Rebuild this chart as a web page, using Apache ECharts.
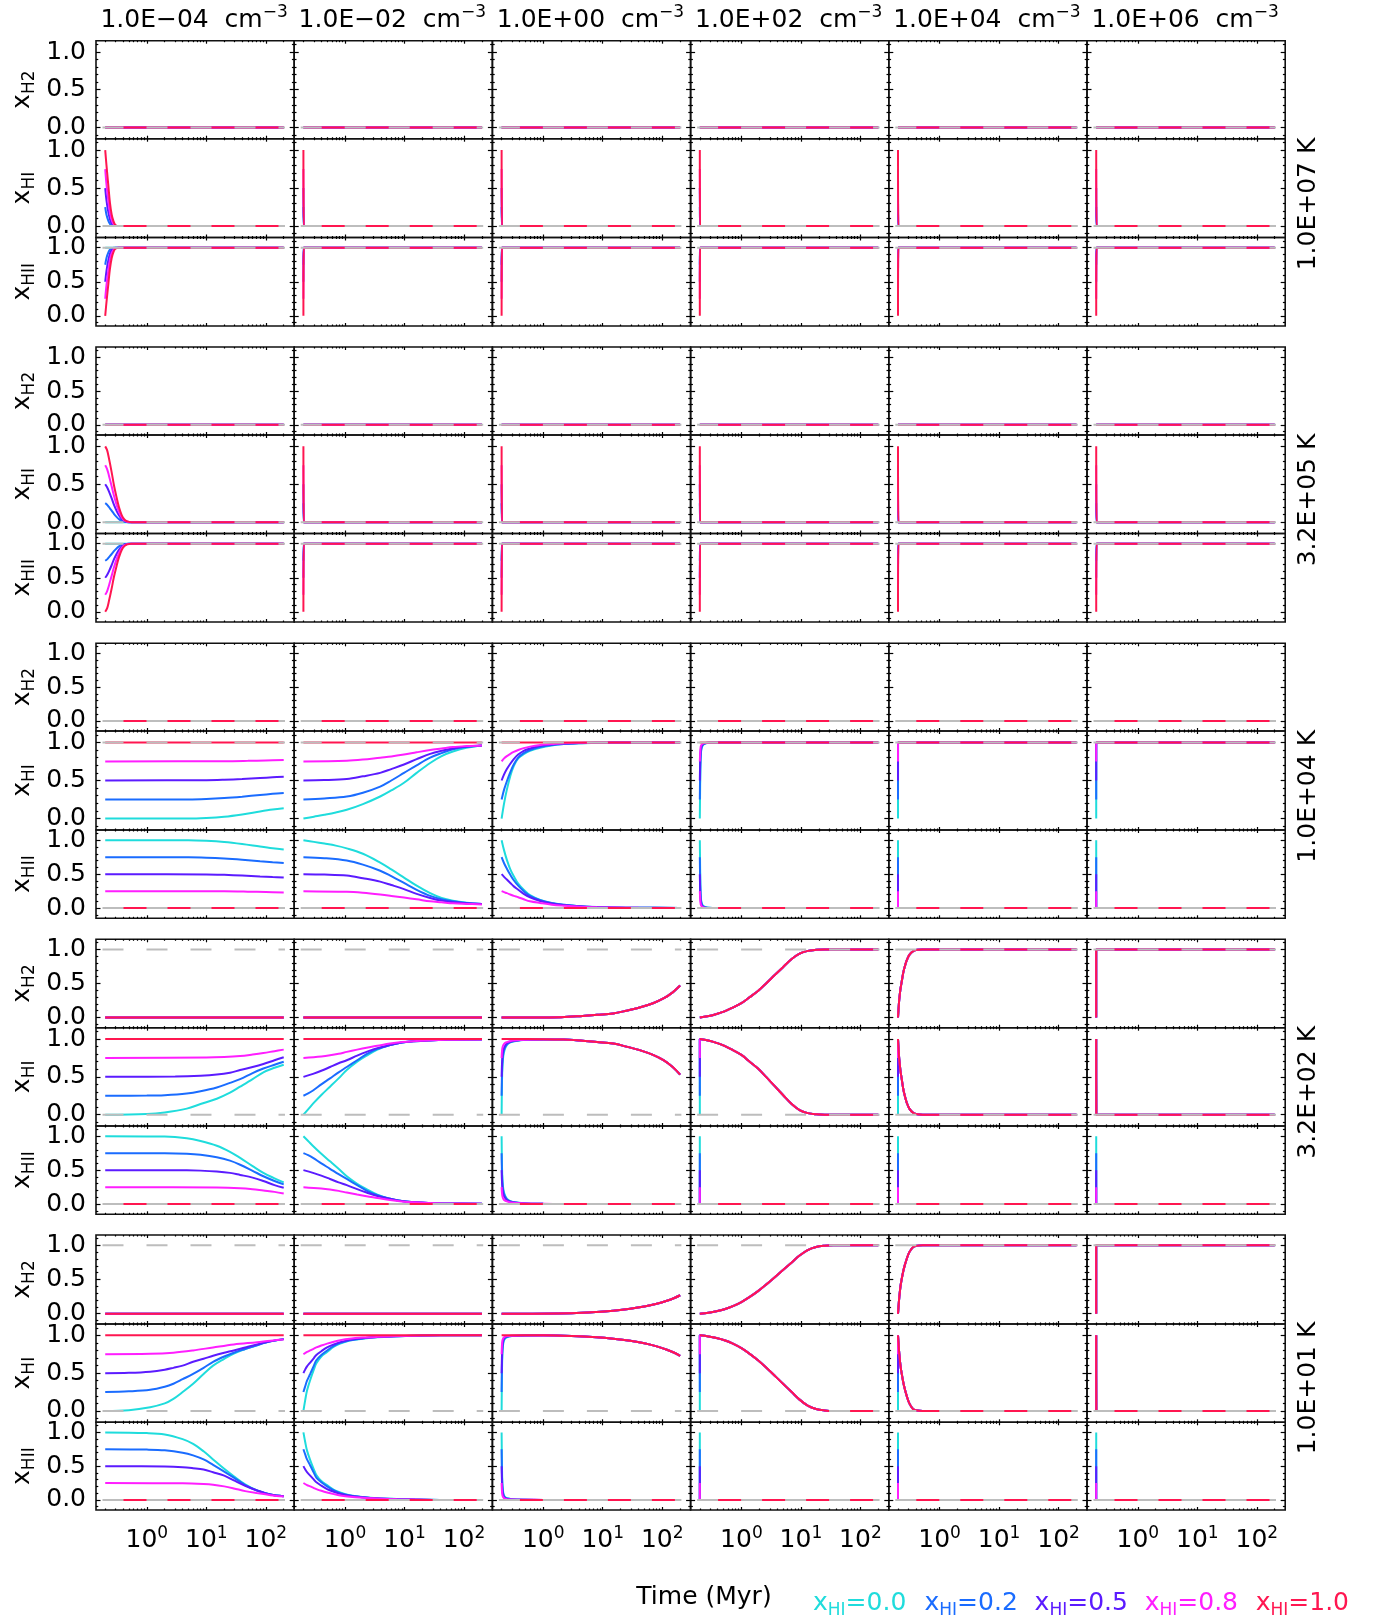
<!DOCTYPE html>
<html>
<head>
<meta charset="utf-8">
<title>Hydrogen chemistry grid</title>
<script src="https://cdn.jsdelivr.net/npm/echarts@6.0.0/dist/echarts.min.js"></script>
<style>
  html, body { margin: 0; padding: 0; background: #fff; }
  #main { width: 1377px; height: 1624px; }
</style>
</head>
<body>
<div id="main"></div>
<script>
var densityLabels = ['1.0E\u221204', '1.0E\u221202', '1.0E+00', '1.0E+02', '1.0E+04', '1.0E+06'];
var temperatureLabels = ['1.0E+07', '3.2E+05', '1.0E+04', '3.2E+02', '1.0E+01'];
var speciesNames = ['H2', 'HI', 'HII'];
var initialHILabels = ['0.0', '0.2', '0.5', '0.8', '1.0'];
var timeTicks = [1, 10, 100];
var timeMinorTicks = [0.2, 0.3, 0.4, 0.5, 0.6, 0.7, 0.8, 0.9, 2, 3, 4, 5, 6, 7, 8, 9, 20, 30, 40, 50, 60, 70, 80, 90, 200];
var fracTicks = [0, 0.5, 1];
var fracMinorTicks = [-0.1, 0.1, 0.2, 0.3, 0.4, 0.6, 0.7, 0.8, 0.9, 1.1];
// equilibrium [H2, HI, HII] for each temperature
var equilibrium = [[0, 0, 1], [0, 0, 1], [0, 1, 0], [1, 0, 0], [1, 0, 0]];
var eqTimes = [0.18, 210];

// curves: [column][initial xHI 0, .25, .5, .75, 1] -> [time Myr, fraction]
var Z = [[0.2, 0], [200, 0]];
var ONE = [[0.2, 1], [200, 1]];
var zeroCol = [Z, Z, Z, Z, Z];
var hiDrop = [Z, [[0.2, 0.25], [0.202, 0], [200, 0]], [[0.2, 0.5], [0.202, 0], [200, 0]], [[0.2, 0.75], [0.202, 0], [200, 0]], [[0.2, 1], [0.202, 0], [200, 0]]];
var hiiJump = [ONE, [[0.2, 0.75], [0.202, 1], [200, 1]], [[0.2, 0.5], [0.202, 1], [200, 1]], [[0.2, 0.25], [0.202, 1], [200, 1]], [[0.2, 0], [0.202, 1], [200, 1]]];
var hiUp = [[[0.2, 0], [0.2, 1], [200, 1]], [[0.2, 0.25], [0.2, 1], [200, 1]], [[0.2, 0.5], [0.2, 1], [200, 1]], [[0.2, 0.75], [0.2, 1], [200, 1]], ONE];
var hiiDown = [[[0.2, 1], [0.2, 0], [200, 0]], [[0.2, 0.75], [0.2, 0], [200, 0]], [[0.2, 0.5], [0.2, 0], [200, 0]], [[0.2, 0.25], [0.2, 0], [200, 0]], Z];
var h2Jump = [[0.2, 0], [0.2, 1], [200, 1]];
var hiSpike = [[[0.2, 0], [0.2, 1], [0.201, 0], [200, 0]], [[0.2, 0.25], [0.2, 1], [0.201, 0], [200, 0]], [[0.2, 0.5], [0.2, 1], [0.201, 0], [200, 0]], [[0.2, 0.75], [0.2, 1], [0.201, 0], [200, 0]], [[0.2, 1], [0.201, 0], [200, 0]]];

// ---- T = 1e7 K
var xH2_T1 = [zeroCol, zeroCol, zeroCol, zeroCol, zeroCol, zeroCol];
var xHI_T1 = [
  [Z,
   [[0.2, 0.25], [0.21, 0.15], [0.226, 0.07], [0.24, 0.03], [0.257, 0.01], [0.28, 0], [200, 0]],
   [[0.2, 0.5], [0.21, 0.34], [0.226, 0.18], [0.24, 0.09], [0.257, 0.035], [0.275, 0.012], [0.3, 0], [200, 0]],
   [[0.2, 0.75], [0.21, 0.55], [0.226, 0.33], [0.24, 0.18], [0.257, 0.08], [0.275, 0.03], [0.3, 0.005], [0.33, 0], [200, 0]],
   [[0.2, 1], [0.21, 0.8], [0.226, 0.53], [0.24, 0.31], [0.257, 0.15], [0.275, 0.066], [0.293, 0.02], [0.33, 0], [200, 0]]],
  hiDrop, hiDrop, hiDrop, hiDrop, hiDrop];
var xHII_T1 = [
  [ONE,
   [[0.2, 0.75], [0.21, 0.85], [0.226, 0.93], [0.24, 0.97], [0.257, 0.99], [0.28, 1], [200, 1]],
   [[0.2, 0.5], [0.21, 0.66], [0.226, 0.82], [0.24, 0.91], [0.257, 0.965], [0.275, 0.988], [0.3, 1], [200, 1]],
   [[0.2, 0.25], [0.21, 0.45], [0.226, 0.67], [0.24, 0.82], [0.257, 0.92], [0.275, 0.97], [0.3, 0.995], [0.33, 1], [200, 1]],
   [[0.2, 0], [0.21, 0.2], [0.226, 0.47], [0.24, 0.69], [0.257, 0.85], [0.275, 0.934], [0.293, 0.98], [0.33, 1], [200, 1]]],
  hiiJump, hiiJump, hiiJump, hiiJump, hiiJump];

// ---- T = 3.2e5 K
var xH2_T2 = [zeroCol, zeroCol, zeroCol, zeroCol, zeroCol, zeroCol];
var xHI_T2 = [
  [Z,
   [[0.2, 0.25], [0.215, 0.23], [0.23, 0.2], [0.255, 0.155], [0.28, 0.11], [0.31, 0.07], [0.34, 0.04], [0.38, 0.018], [0.42, 0.007], [0.5, 0], [200, 0]],
   [[0.2, 0.5], [0.215, 0.46], [0.23, 0.41], [0.255, 0.32], [0.28, 0.23], [0.31, 0.15], [0.34, 0.09], [0.38, 0.04], [0.42, 0.015], [0.5, 0], [200, 0]],
   [[0.2, 0.75], [0.215, 0.7], [0.23, 0.62], [0.255, 0.48], [0.28, 0.35], [0.31, 0.23], [0.34, 0.14], [0.38, 0.06], [0.42, 0.022], [0.47, 0.006], [0.55, 0], [200, 0]],
   [[0.2, 1], [0.215, 0.95], [0.23, 0.85], [0.255, 0.67], [0.28, 0.49], [0.31, 0.33], [0.34, 0.2], [0.38, 0.09], [0.42, 0.035], [0.47, 0.01], [0.55, 0], [200, 0]]],
  hiDrop, hiDrop, hiDrop, hiDrop, hiDrop];
var xHII_T2 = [
  [ONE,
   [[0.2, 0.75], [0.215, 0.77], [0.23, 0.8], [0.255, 0.845], [0.28, 0.89], [0.31, 0.93], [0.34, 0.96], [0.38, 0.982], [0.42, 0.993], [0.5, 1], [200, 1]],
   [[0.2, 0.5], [0.215, 0.54], [0.23, 0.59], [0.255, 0.68], [0.28, 0.77], [0.31, 0.85], [0.34, 0.91], [0.38, 0.96], [0.42, 0.985], [0.5, 1], [200, 1]],
   [[0.2, 0.25], [0.215, 0.3], [0.23, 0.38], [0.255, 0.52], [0.28, 0.65], [0.31, 0.77], [0.34, 0.86], [0.38, 0.94], [0.42, 0.978], [0.47, 0.994], [0.55, 1], [200, 1]],
   [[0.2, 0], [0.215, 0.05], [0.23, 0.15], [0.255, 0.33], [0.28, 0.51], [0.31, 0.67], [0.34, 0.8], [0.38, 0.91], [0.42, 0.965], [0.47, 0.99], [0.55, 1], [200, 1]]],
  hiiJump, hiiJump, hiiJump, hiiJump, hiiJump];

// ---- T = 1e4 K
var xH2_T3 = [zeroCol, zeroCol, zeroCol, zeroCol, zeroCol, zeroCol];
var xHI_T3 = [
  [[[0.2, 0], [5, 0], [10, 0.008], [20, 0.025], [40, 0.055], [80, 0.093], [130, 0.118], [200, 0.137]],
   [[0.2, 0.25], [5, 0.252], [10, 0.258], [20, 0.27], [40, 0.288], [80, 0.31], [130, 0.325], [200, 0.336]],
   [[0.2, 0.5], [10, 0.504], [20, 0.51], [40, 0.52], [80, 0.533], [130, 0.542], [200, 0.549]],
   [[0.2, 0.75], [20, 0.753], [50, 0.758], [100, 0.764], [200, 0.77]],
   ONE],
  [[[0.2, 0], [0.3, 0.025], [0.45, 0.05], [0.7, 0.08], [1.07, 0.115], [2, 0.19], [3.9, 0.29], [6, 0.37], [9.8, 0.47], [16, 0.6], [27, 0.73], [42, 0.82], [65, 0.88], [110, 0.93], [200, 0.96]],
   [[0.2, 0.25], [0.45, 0.265], [1.07, 0.29], [2, 0.34], [3.9, 0.42], [6, 0.5], [9.8, 0.6], [16, 0.7], [27, 0.8], [42, 0.86], [65, 0.91], [110, 0.94], [200, 0.96]],
   [[0.2, 0.5], [0.45, 0.505], [1.07, 0.52], [2, 0.555], [3.9, 0.6], [6, 0.65], [9.8, 0.71], [16, 0.78], [27, 0.85], [42, 0.89], [65, 0.92], [110, 0.945], [200, 0.96]],
   [[0.2, 0.75], [1.07, 0.76], [2, 0.775], [3.9, 0.8], [6, 0.815], [9.8, 0.84], [16, 0.87], [27, 0.9], [42, 0.92], [65, 0.94], [110, 0.952], [200, 0.96]],
   ONE],
  [[[0.2, 0], [0.22, 0.2], [0.245, 0.38], [0.28, 0.56], [0.32, 0.69], [0.38, 0.79], [0.47, 0.845], [0.6, 0.89], [0.89, 0.93], [1.4, 0.96], [2.2, 0.978], [4, 0.99], [8, 0.997], [15, 1], [200, 1]],
   [[0.2, 0.25], [0.22, 0.38], [0.245, 0.49], [0.28, 0.61], [0.32, 0.71], [0.38, 0.8], [0.47, 0.86], [0.6, 0.9], [0.89, 0.94], [1.4, 0.965], [2.2, 0.98], [4, 0.99], [8, 0.997], [15, 1], [200, 1]],
   [[0.2, 0.5], [0.22, 0.58], [0.245, 0.65], [0.28, 0.72], [0.32, 0.78], [0.38, 0.84], [0.47, 0.89], [0.6, 0.92], [0.89, 0.955], [1.4, 0.972], [2.2, 0.985], [4, 0.993], [8, 0.998], [15, 1], [200, 1]],
   [[0.2, 0.75], [0.22, 0.79], [0.245, 0.82], [0.28, 0.85], [0.32, 0.875], [0.38, 0.9], [0.47, 0.925], [0.6, 0.945], [0.89, 0.965], [1.4, 0.978], [2.2, 0.99], [4, 0.995], [8, 0.998], [15, 1], [200, 1]],
   ONE],
  [[[0.2, 0], [0.205, 0.7], [0.21, 0.88], [0.22, 0.95], [0.24, 0.98], [0.28, 0.995], [0.4, 1], [200, 1]],
   [[0.2, 0.25], [0.205, 0.78], [0.21, 0.9], [0.22, 0.96], [0.24, 0.985], [0.28, 0.996], [0.4, 1], [200, 1]],
   [[0.2, 0.5], [0.205, 0.85], [0.21, 0.93], [0.22, 0.97], [0.24, 0.99], [0.3, 1], [200, 1]],
   [[0.2, 0.75], [0.205, 0.92], [0.21, 0.96], [0.22, 0.98], [0.24, 0.993], [0.3, 1], [200, 1]],
   ONE],
  hiUp, hiUp];
var xHII_T3 = [
  [[[0.2, 1], [5, 1], [10, 0.992], [20, 0.975], [40, 0.945], [80, 0.907], [130, 0.882], [200, 0.863]],
   [[0.2, 0.75], [5, 0.748], [10, 0.742], [20, 0.73], [40, 0.712], [80, 0.69], [130, 0.675], [200, 0.664]],
   [[0.2, 0.5], [10, 0.496], [20, 0.49], [40, 0.48], [80, 0.467], [130, 0.458], [200, 0.451]],
   [[0.2, 0.25], [20, 0.247], [50, 0.242], [100, 0.236], [200, 0.23]],
   Z],
  [[[0.2, 1], [0.3, 0.975], [0.45, 0.95], [0.7, 0.92], [1.07, 0.88], [2, 0.8], [3.9, 0.67], [6, 0.57], [9.8, 0.45], [16, 0.33], [27, 0.22], [42, 0.15], [65, 0.11], [110, 0.08], [200, 0.06]],
   [[0.2, 0.75], [0.45, 0.735], [1.07, 0.7], [2, 0.64], [3.9, 0.55], [6, 0.47], [9.8, 0.37], [16, 0.27], [27, 0.18], [42, 0.13], [65, 0.1], [110, 0.075], [200, 0.06]],
   [[0.2, 0.5], [0.45, 0.495], [1.07, 0.48], [2, 0.44], [3.9, 0.39], [6, 0.34], [9.8, 0.28], [16, 0.21], [27, 0.15], [42, 0.11], [65, 0.09], [110, 0.07], [200, 0.06]],
   [[0.2, 0.25], [1.07, 0.24], [2, 0.225], [3.9, 0.2], [6, 0.18], [9.8, 0.155], [16, 0.13], [27, 0.1], [42, 0.085], [65, 0.07], [110, 0.062], [200, 0.055]],
   Z],
  [[[0.2, 1], [0.22, 0.85], [0.245, 0.71], [0.28, 0.57], [0.32, 0.47], [0.38, 0.36], [0.47, 0.27], [0.6, 0.19], [0.89, 0.12], [1.4, 0.075], [2.2, 0.05], [4, 0.028], [8, 0.015], [15, 0.01], [40, 0.005], [200, 0.003]],
   [[0.2, 0.75], [0.22, 0.66], [0.245, 0.58], [0.28, 0.49], [0.32, 0.41], [0.38, 0.33], [0.47, 0.25], [0.6, 0.18], [0.89, 0.115], [1.4, 0.072], [2.2, 0.048], [4, 0.027], [8, 0.015], [15, 0.01], [40, 0.005], [200, 0.003]],
   [[0.2, 0.5], [0.22, 0.46], [0.245, 0.42], [0.28, 0.37], [0.32, 0.32], [0.38, 0.27], [0.47, 0.21], [0.6, 0.16], [0.89, 0.105], [1.4, 0.068], [2.2, 0.045], [4, 0.026], [8, 0.014], [15, 0.01], [40, 0.005], [200, 0.003]],
   [[0.2, 0.25], [0.22, 0.235], [0.245, 0.22], [0.28, 0.2], [0.32, 0.18], [0.38, 0.16], [0.47, 0.13], [0.6, 0.1], [0.89, 0.075], [1.4, 0.05], [2.2, 0.035], [4, 0.02], [8, 0.012], [15, 0.008], [40, 0.004], [200, 0.003]],
   Z],
  [[[0.2, 1], [0.205, 0.3], [0.21, 0.12], [0.22, 0.05], [0.24, 0.02], [0.28, 0.005], [0.4, 0], [200, 0]],
   [[0.2, 0.75], [0.205, 0.22], [0.21, 0.1], [0.22, 0.04], [0.24, 0.015], [0.28, 0.004], [0.4, 0], [200, 0]],
   [[0.2, 0.5], [0.205, 0.15], [0.21, 0.07], [0.22, 0.03], [0.24, 0.01], [0.3, 0], [200, 0]],
   [[0.2, 0.25], [0.205, 0.08], [0.21, 0.04], [0.22, 0.02], [0.24, 0.007], [0.3, 0], [200, 0]],
   Z],
  hiiDown, hiiDown];

// ---- T = 320 K
var h2_320_n1 = [[0.2, 0], [2, 0.005], [4.2, 0.02], [8, 0.04], [15, 0.06], [25, 0.1], [43, 0.15], [70, 0.21], [105, 0.28], [150, 0.37], [200, 0.47]];
var h2_320_n2 = [[0.2, 0], [0.3, 0.025], [0.38, 0.05], [0.52, 0.09], [0.72, 0.146], [1, 0.21], [1.38, 0.3], [1.9, 0.39], [2.6, 0.5], [3.6, 0.62], [5, 0.74], [7, 0.86], [9.5, 0.94], [13, 0.98], [18, 0.995], [25, 1], [200, 1]];
var h2_320_n4 = [[0.2, 0], [0.205, 0.15], [0.21, 0.27], [0.22, 0.42], [0.23, 0.52], [0.245, 0.66], [0.26, 0.75], [0.28, 0.84], [0.31, 0.92], [0.36, 0.976], [0.42, 0.995], [0.52, 1], [200, 1]];
var xH2_T4 = [zeroCol, zeroCol,
  [h2_320_n1, h2_320_n1, h2_320_n1, h2_320_n1, h2_320_n1],
  [h2_320_n2, h2_320_n2, h2_320_n2, h2_320_n2, h2_320_n2],
  [h2_320_n4, h2_320_n4, h2_320_n4, h2_320_n4, h2_320_n4],
  [h2Jump, h2Jump, h2Jump, h2Jump, h2Jump]];
var xHI_T4 = [
  [[[0.2, 0], [1, 0.01], [2, 0.03], [4.7, 0.08], [8, 0.14], [15, 0.21], [25, 0.29], [37, 0.37], [60, 0.47], [91, 0.56], [140, 0.62], [200, 0.66]],
   [[0.2, 0.25], [1, 0.252], [2, 0.258], [4.7, 0.28], [8, 0.31], [15, 0.36], [25, 0.42], [37, 0.47], [60, 0.55], [91, 0.61], [140, 0.66], [200, 0.7]],
   [[0.2, 0.5], [3, 0.505], [8, 0.515], [15, 0.53], [25, 0.555], [37, 0.59], [60, 0.63], [91, 0.67], [140, 0.72], [200, 0.76]],
   [[0.2, 0.75], [10, 0.755], [20, 0.762], [37, 0.775], [60, 0.795], [91, 0.815], [140, 0.84], [200, 0.86]],
   ONE],
  [[[0.2, 0], [0.24, 0.07], [0.29, 0.145], [0.4, 0.26], [0.56, 0.37], [0.78, 0.48], [1.07, 0.59], [1.6, 0.7], [2.3, 0.78], [3.5, 0.86], [5.7, 0.92], [9, 0.955], [14, 0.97], [25, 0.982], [50, 0.99], [200, 0.993]],
   [[0.2, 0.25], [0.24, 0.28], [0.29, 0.32], [0.4, 0.4], [0.56, 0.48], [0.78, 0.56], [1.07, 0.63], [1.6, 0.72], [2.3, 0.8], [3.5, 0.87], [5.7, 0.92], [9, 0.955], [14, 0.97], [25, 0.982], [50, 0.99], [200, 0.993]],
   [[0.2, 0.5], [0.29, 0.54], [0.4, 0.58], [0.56, 0.63], [0.78, 0.68], [1.07, 0.72], [1.6, 0.78], [2.3, 0.83], [3.5, 0.88], [5.7, 0.92], [9, 0.955], [14, 0.97], [25, 0.982], [50, 0.99], [200, 0.993]],
   [[0.2, 0.75], [0.4, 0.77], [0.56, 0.785], [0.78, 0.805], [1.07, 0.83], [1.6, 0.86], [2.3, 0.885], [3.5, 0.91], [5.7, 0.94], [9, 0.96], [14, 0.972], [25, 0.982], [50, 0.99], [200, 0.993]],
   ONE],
  [[[0.2, 0], [0.203, 0.45], [0.207, 0.65], [0.213, 0.77], [0.225, 0.86], [0.245, 0.92], [0.28, 0.955], [0.35, 0.975], [0.5, 0.99], [1, 0.995], [2.2, 0.993], [4.2, 0.98], [8, 0.96], [15, 0.94], [25, 0.9], [43, 0.85], [70, 0.79], [105, 0.72], [150, 0.63], [200, 0.53]],
   [[0.2, 0.25], [0.203, 0.55], [0.207, 0.71], [0.213, 0.81], [0.225, 0.88], [0.245, 0.93], [0.28, 0.96], [0.35, 0.977], [0.5, 0.99], [1, 0.995], [2.2, 0.993], [4.2, 0.98], [8, 0.96], [15, 0.94], [25, 0.9], [43, 0.85], [70, 0.79], [105, 0.72], [150, 0.63], [200, 0.53]],
   [[0.2, 0.5], [0.203, 0.67], [0.207, 0.78], [0.213, 0.85], [0.225, 0.9], [0.245, 0.94], [0.28, 0.965], [0.35, 0.98], [0.5, 0.99], [1, 0.995], [2.2, 0.993], [4.2, 0.98], [8, 0.96], [15, 0.94], [25, 0.9], [43, 0.85], [70, 0.79], [105, 0.72], [150, 0.63], [200, 0.53]],
   [[0.2, 0.75], [0.203, 0.84], [0.207, 0.89], [0.213, 0.92], [0.225, 0.945], [0.245, 0.96], [0.28, 0.975], [0.35, 0.985], [0.5, 0.992], [1, 0.995], [2.2, 0.993], [4.2, 0.98], [8, 0.96], [15, 0.94], [25, 0.9], [43, 0.85], [70, 0.79], [105, 0.72], [150, 0.63], [200, 0.53]],
   [[0.2, 1], [1, 0.998], [2.2, 0.993], [4.2, 0.98], [8, 0.96], [15, 0.94], [25, 0.9], [43, 0.85], [70, 0.79], [105, 0.72], [150, 0.63], [200, 0.53]]],
  [[[0.2, 0], [0.2, 1], [0.3, 0.975], [0.38, 0.95], [0.52, 0.91], [0.72, 0.854], [1, 0.79], [1.38, 0.7], [1.9, 0.61], [2.6, 0.5], [3.6, 0.38], [5, 0.26], [7, 0.14], [9.5, 0.06], [13, 0.02], [18, 0.005], [25, 0], [200, 0]],
   [[0.2, 0.25], [0.2, 1], [0.3, 0.975], [0.38, 0.95], [0.52, 0.91], [0.72, 0.854], [1, 0.79], [1.38, 0.7], [1.9, 0.61], [2.6, 0.5], [3.6, 0.38], [5, 0.26], [7, 0.14], [9.5, 0.06], [13, 0.02], [18, 0.005], [25, 0], [200, 0]],
   [[0.2, 0.5], [0.2, 1], [0.3, 0.975], [0.38, 0.95], [0.52, 0.91], [0.72, 0.854], [1, 0.79], [1.38, 0.7], [1.9, 0.61], [2.6, 0.5], [3.6, 0.38], [5, 0.26], [7, 0.14], [9.5, 0.06], [13, 0.02], [18, 0.005], [25, 0], [200, 0]],
   [[0.2, 0.75], [0.2, 1], [0.3, 0.975], [0.38, 0.95], [0.52, 0.91], [0.72, 0.854], [1, 0.79], [1.38, 0.7], [1.9, 0.61], [2.6, 0.5], [3.6, 0.38], [5, 0.26], [7, 0.14], [9.5, 0.06], [13, 0.02], [18, 0.005], [25, 0], [200, 0]],
   [[0.2, 1], [0.3, 0.975], [0.38, 0.95], [0.52, 0.91], [0.72, 0.854], [1, 0.79], [1.38, 0.7], [1.9, 0.61], [2.6, 0.5], [3.6, 0.38], [5, 0.26], [7, 0.14], [9.5, 0.06], [13, 0.02], [18, 0.005], [25, 0], [200, 0]]],
  [[[0.2, 0], [0.2, 1], [0.205, 0.85], [0.21, 0.73], [0.22, 0.58], [0.23, 0.48], [0.245, 0.34], [0.26, 0.25], [0.28, 0.16], [0.31, 0.08], [0.36, 0.024], [0.42, 0.005], [0.52, 0], [200, 0]],
   [[0.2, 0.25], [0.2, 1], [0.205, 0.85], [0.21, 0.73], [0.22, 0.58], [0.23, 0.48], [0.245, 0.34], [0.26, 0.25], [0.28, 0.16], [0.31, 0.08], [0.36, 0.024], [0.42, 0.005], [0.52, 0], [200, 0]],
   [[0.2, 0.5], [0.2, 1], [0.205, 0.85], [0.21, 0.73], [0.22, 0.58], [0.23, 0.48], [0.245, 0.34], [0.26, 0.25], [0.28, 0.16], [0.31, 0.08], [0.36, 0.024], [0.42, 0.005], [0.52, 0], [200, 0]],
   [[0.2, 0.75], [0.2, 1], [0.205, 0.85], [0.21, 0.73], [0.22, 0.58], [0.23, 0.48], [0.245, 0.34], [0.26, 0.25], [0.28, 0.16], [0.31, 0.08], [0.36, 0.024], [0.42, 0.005], [0.52, 0], [200, 0]],
   [[0.2, 1], [0.205, 0.85], [0.21, 0.73], [0.22, 0.58], [0.23, 0.48], [0.245, 0.34], [0.26, 0.25], [0.28, 0.16], [0.31, 0.08], [0.36, 0.024], [0.42, 0.005], [0.52, 0], [200, 0]]],
  hiSpike];
var xHII_T4 = [
  [[[0.2, 1], [2, 0.995], [4.7, 0.97], [8, 0.93], [15, 0.86], [25, 0.77], [37, 0.68], [60, 0.56], [91, 0.46], [140, 0.38], [200, 0.32]],
   [[0.2, 0.75], [2, 0.748], [4.7, 0.74], [8, 0.725], [15, 0.69], [25, 0.64], [37, 0.58], [60, 0.49], [91, 0.41], [140, 0.34], [200, 0.29]],
   [[0.2, 0.5], [4.7, 0.497], [8, 0.493], [15, 0.48], [25, 0.46], [37, 0.43], [60, 0.39], [91, 0.34], [140, 0.28], [200, 0.24]],
   [[0.2, 0.25], [15, 0.245], [37, 0.235], [60, 0.22], [91, 0.2], [140, 0.18], [200, 0.155]],
   Z],
  [[[0.2, 1], [0.24, 0.93], [0.29, 0.855], [0.4, 0.74], [0.56, 0.63], [0.78, 0.52], [1.07, 0.41], [1.6, 0.3], [2.3, 0.22], [3.5, 0.14], [5.7, 0.08], [9, 0.045], [14, 0.03], [25, 0.018], [50, 0.01], [200, 0.007]],
   [[0.2, 0.75], [0.24, 0.72], [0.29, 0.68], [0.4, 0.6], [0.56, 0.52], [0.78, 0.44], [1.07, 0.37], [1.6, 0.28], [2.3, 0.2], [3.5, 0.13], [5.7, 0.08], [9, 0.045], [14, 0.03], [25, 0.018], [50, 0.01], [200, 0.007]],
   [[0.2, 0.5], [0.29, 0.46], [0.4, 0.42], [0.56, 0.37], [0.78, 0.32], [1.07, 0.28], [1.6, 0.22], [2.3, 0.17], [3.5, 0.12], [5.7, 0.08], [9, 0.045], [14, 0.03], [25, 0.018], [50, 0.01], [200, 0.007]],
   [[0.2, 0.25], [0.4, 0.23], [0.56, 0.215], [0.78, 0.195], [1.07, 0.17], [1.6, 0.14], [2.3, 0.115], [3.5, 0.09], [5.7, 0.06], [9, 0.04], [14, 0.028], [25, 0.018], [50, 0.01], [200, 0.007]],
   Z],
  [[[0.2, 1], [0.203, 0.55], [0.207, 0.35], [0.213, 0.23], [0.225, 0.14], [0.245, 0.08], [0.28, 0.045], [0.35, 0.025], [0.5, 0.01], [1, 0.005], [2.2, 0.002], [5, 0], [200, 0]],
   [[0.2, 0.75], [0.203, 0.45], [0.207, 0.29], [0.213, 0.19], [0.225, 0.12], [0.245, 0.07], [0.28, 0.04], [0.35, 0.023], [0.5, 0.01], [1, 0.005], [2.2, 0.002], [5, 0], [200, 0]],
   [[0.2, 0.5], [0.203, 0.33], [0.207, 0.22], [0.213, 0.15], [0.225, 0.1], [0.245, 0.06], [0.28, 0.035], [0.35, 0.02], [0.5, 0.01], [1, 0.005], [2.2, 0.002], [5, 0], [200, 0]],
   [[0.2, 0.25], [0.203, 0.16], [0.207, 0.11], [0.213, 0.08], [0.225, 0.055], [0.245, 0.04], [0.28, 0.025], [0.35, 0.015], [0.5, 0.008], [1, 0.005], [2.2, 0.002], [5, 0], [200, 0]],
   Z],
  hiiDown, hiiDown, hiiDown];

// ---- T = 10 K
var h2_10_n1 = [[0.2, 0], [3, 0.008], [7.9, 0.025], [15, 0.045], [29, 0.073], [50, 0.105], [81, 0.146], [120, 0.19], [160, 0.23], [200, 0.27]];
var h2_10_n2 = [[0.2, 0], [0.28, 0.015], [0.38, 0.035], [0.52, 0.065], [0.72, 0.11], [1, 0.17], [1.38, 0.245], [1.9, 0.33], [2.6, 0.425], [3.6, 0.53], [5, 0.64], [7, 0.75], [9.5, 0.85], [13, 0.93], [18, 0.975], [25, 0.993], [35, 1], [200, 1]];
var h2_10_n4 = [[0.2, 0], [0.205, 0.13], [0.21, 0.24], [0.22, 0.4], [0.23, 0.5], [0.245, 0.62], [0.26, 0.71], [0.28, 0.8], [0.31, 0.9], [0.36, 0.976], [0.42, 0.995], [0.52, 1], [200, 1]];
var xH2_T5 = [zeroCol, zeroCol,
  [h2_10_n1, h2_10_n1, h2_10_n1, h2_10_n1, h2_10_n1],
  [h2_10_n2, h2_10_n2, h2_10_n2, h2_10_n2, h2_10_n2],
  [h2_10_n4, h2_10_n4, h2_10_n4, h2_10_n4, h2_10_n4],
  [h2Jump, h2Jump, h2Jump, h2Jump, h2Jump]];
var hi_10_n2_tail = [[0.28, 0.985], [0.38, 0.965], [0.52, 0.935], [0.72, 0.89], [1, 0.83], [1.38, 0.755], [1.9, 0.67], [2.6, 0.575], [3.6, 0.47], [5, 0.36], [7, 0.25], [9.5, 0.15], [13, 0.07], [18, 0.025], [25, 0.007], [35, 0], [200, 0]];
var xHI_T5 = [
  [[[0.2, 0], [0.5, 0.01], [1.14, 0.05], [2, 0.1], [2.8, 0.16], [4, 0.25], [6, 0.36], [9, 0.49], [13, 0.6], [20, 0.69], [29, 0.76], [45, 0.82], [71, 0.87], [120, 0.92], [200, 0.95]],
   [[0.2, 0.25], [0.5, 0.26], [1.14, 0.28], [2, 0.32], [2.8, 0.36], [4, 0.42], [6, 0.49], [9, 0.57], [13, 0.65], [20, 0.72], [29, 0.77], [45, 0.82], [71, 0.87], [120, 0.92], [200, 0.95]],
   [[0.2, 0.5], [0.5, 0.505], [1.14, 0.52], [2, 0.545], [2.8, 0.57], [4, 0.6], [6, 0.65], [9, 0.69], [13, 0.73], [20, 0.77], [29, 0.8], [45, 0.84], [71, 0.88], [120, 0.92], [200, 0.95]],
   [[0.2, 0.75], [1.14, 0.755], [2.8, 0.77], [6, 0.8], [13, 0.84], [29, 0.88], [71, 0.91], [120, 0.93], [200, 0.945]],
   ONE],
  [[[0.2, 0], [0.215, 0.15], [0.23, 0.27], [0.26, 0.41], [0.3, 0.55], [0.33, 0.63], [0.4, 0.72], [0.5, 0.78], [0.65, 0.85], [0.83, 0.89], [1.2, 0.93], [2, 0.956], [3.5, 0.975], [7.4, 0.987], [15, 0.995], [40, 1], [200, 1]],
   [[0.2, 0.25], [0.215, 0.33], [0.23, 0.4], [0.26, 0.49], [0.3, 0.6], [0.33, 0.67], [0.4, 0.74], [0.5, 0.8], [0.65, 0.86], [0.83, 0.9], [1.2, 0.935], [2, 0.96], [3.5, 0.977], [7.4, 0.988], [15, 0.995], [40, 1], [200, 1]],
   [[0.2, 0.5], [0.215, 0.55], [0.23, 0.59], [0.26, 0.64], [0.3, 0.7], [0.33, 0.74], [0.4, 0.79], [0.5, 0.84], [0.65, 0.88], [0.83, 0.91], [1.2, 0.94], [2, 0.962], [3.5, 0.978], [7.4, 0.989], [15, 0.995], [40, 1], [200, 1]],
   [[0.2, 0.75], [0.23, 0.78], [0.26, 0.8], [0.3, 0.825], [0.33, 0.84], [0.4, 0.865], [0.5, 0.89], [0.65, 0.915], [0.83, 0.935], [1.2, 0.955], [2, 0.97], [3.5, 0.98], [7.4, 0.99], [15, 0.995], [40, 1], [200, 1]],
   ONE],
  [[[0.2, 0], [0.203, 0.55], [0.206, 0.75], [0.21, 0.85], [0.215, 0.91], [0.225, 0.95], [0.245, 0.975], [0.3, 0.99], [0.5, 0.997], [1, 1], [3, 0.992], [7.9, 0.975], [15, 0.955], [29, 0.927], [50, 0.895], [81, 0.854], [120, 0.81], [160, 0.77], [200, 0.73]],
   [[0.2, 0.25], [0.203, 0.65], [0.206, 0.8], [0.21, 0.88], [0.215, 0.93], [0.225, 0.96], [0.245, 0.98], [0.3, 0.99], [0.5, 0.997], [1, 1], [3, 0.992], [7.9, 0.975], [15, 0.955], [29, 0.927], [50, 0.895], [81, 0.854], [120, 0.81], [160, 0.77], [200, 0.73]],
   [[0.2, 0.5], [0.203, 0.75], [0.206, 0.86], [0.21, 0.91], [0.215, 0.945], [0.225, 0.97], [0.245, 0.985], [0.3, 0.993], [0.5, 0.998], [1, 1], [3, 0.992], [7.9, 0.975], [15, 0.955], [29, 0.927], [50, 0.895], [81, 0.854], [120, 0.81], [160, 0.77], [200, 0.73]],
   [[0.2, 0.75], [0.203, 0.88], [0.206, 0.93], [0.21, 0.95], [0.215, 0.965], [0.225, 0.98], [0.245, 0.99], [0.3, 0.995], [0.5, 0.998], [1, 1], [3, 0.992], [7.9, 0.975], [15, 0.955], [29, 0.927], [50, 0.895], [81, 0.854], [120, 0.81], [160, 0.77], [200, 0.73]],
   [[0.2, 1], [1, 1], [3, 0.992], [7.9, 0.975], [15, 0.955], [29, 0.927], [50, 0.895], [81, 0.854], [120, 0.81], [160, 0.77], [200, 0.73]]],
  [[[0.2, 0], [0.2, 1]].concat(hi_10_n2_tail),
   [[0.2, 0.25], [0.2, 1]].concat(hi_10_n2_tail),
   [[0.2, 0.5], [0.2, 1]].concat(hi_10_n2_tail),
   [[0.2, 0.75], [0.2, 1]].concat(hi_10_n2_tail),
   [[0.2, 1]].concat(hi_10_n2_tail)],
  [[[0.2, 0], [0.2, 1], [0.205, 0.87], [0.21, 0.76], [0.22, 0.6], [0.23, 0.5], [0.245, 0.38], [0.26, 0.29], [0.28, 0.2], [0.31, 0.1], [0.36, 0.024], [0.42, 0.005], [0.52, 0], [200, 0]],
   [[0.2, 0.25], [0.2, 1], [0.205, 0.87], [0.21, 0.76], [0.22, 0.6], [0.23, 0.5], [0.245, 0.38], [0.26, 0.29], [0.28, 0.2], [0.31, 0.1], [0.36, 0.024], [0.42, 0.005], [0.52, 0], [200, 0]],
   [[0.2, 0.5], [0.2, 1], [0.205, 0.87], [0.21, 0.76], [0.22, 0.6], [0.23, 0.5], [0.245, 0.38], [0.26, 0.29], [0.28, 0.2], [0.31, 0.1], [0.36, 0.024], [0.42, 0.005], [0.52, 0], [200, 0]],
   [[0.2, 0.75], [0.2, 1], [0.205, 0.87], [0.21, 0.76], [0.22, 0.6], [0.23, 0.5], [0.245, 0.38], [0.26, 0.29], [0.28, 0.2], [0.31, 0.1], [0.36, 0.024], [0.42, 0.005], [0.52, 0], [200, 0]],
   [[0.2, 1], [0.205, 0.87], [0.21, 0.76], [0.22, 0.6], [0.23, 0.5], [0.245, 0.38], [0.26, 0.29], [0.28, 0.2], [0.31, 0.1], [0.36, 0.024], [0.42, 0.005], [0.52, 0], [200, 0]]],
  hiSpike];
var xHII_T5 = [
  [[[0.2, 1], [1, 0.99], [2, 0.97], [4, 0.9], [6, 0.83], [9, 0.72], [13, 0.6], [20, 0.46], [29, 0.35], [45, 0.23], [71, 0.14], [120, 0.08], [200, 0.055]],
   [[0.2, 0.75], [1, 0.745], [2, 0.735], [4, 0.7], [6, 0.66], [9, 0.6], [13, 0.52], [20, 0.42], [29, 0.33], [45, 0.22], [71, 0.14], [120, 0.08], [200, 0.055]],
   [[0.2, 0.5], [2, 0.495], [4, 0.485], [6, 0.47], [9, 0.45], [13, 0.41], [20, 0.36], [29, 0.29], [45, 0.21], [71, 0.14], [120, 0.08], [200, 0.055]],
   [[0.2, 0.25], [4, 0.245], [9, 0.235], [13, 0.225], [20, 0.2], [29, 0.17], [45, 0.13], [71, 0.1], [120, 0.07], [200, 0.05]],
   Z],
  [[[0.2, 1], [0.215, 0.85], [0.23, 0.73], [0.26, 0.59], [0.3, 0.45], [0.33, 0.37], [0.4, 0.28], [0.5, 0.22], [0.65, 0.15], [0.83, 0.11], [1.2, 0.07], [2, 0.044], [3.5, 0.025], [7.4, 0.013], [15, 0.005], [40, 0], [200, 0]],
   [[0.2, 0.75], [0.215, 0.67], [0.23, 0.6], [0.26, 0.51], [0.3, 0.4], [0.33, 0.33], [0.4, 0.26], [0.5, 0.2], [0.65, 0.14], [0.83, 0.1], [1.2, 0.065], [2, 0.04], [3.5, 0.023], [7.4, 0.012], [15, 0.005], [40, 0], [200, 0]],
   [[0.2, 0.5], [0.215, 0.45], [0.23, 0.41], [0.26, 0.36], [0.3, 0.3], [0.33, 0.26], [0.4, 0.21], [0.5, 0.16], [0.65, 0.12], [0.83, 0.09], [1.2, 0.06], [2, 0.038], [3.5, 0.022], [7.4, 0.011], [15, 0.005], [40, 0], [200, 0]],
   [[0.2, 0.25], [0.23, 0.22], [0.26, 0.2], [0.3, 0.175], [0.33, 0.16], [0.4, 0.135], [0.5, 0.11], [0.65, 0.085], [0.83, 0.065], [1.2, 0.045], [2, 0.03], [3.5, 0.02], [7.4, 0.01], [15, 0.005], [40, 0], [200, 0]],
   Z],
  [[[0.2, 1], [0.203, 0.45], [0.206, 0.25], [0.21, 0.15], [0.215, 0.09], [0.225, 0.05], [0.245, 0.025], [0.3, 0.01], [0.5, 0.003], [1, 0], [200, 0]],
   [[0.2, 0.75], [0.203, 0.35], [0.206, 0.2], [0.21, 0.12], [0.215, 0.07], [0.225, 0.04], [0.245, 0.02], [0.3, 0.01], [0.5, 0.003], [1, 0], [200, 0]],
   [[0.2, 0.5], [0.203, 0.25], [0.206, 0.14], [0.21, 0.09], [0.215, 0.055], [0.225, 0.03], [0.245, 0.015], [0.3, 0.007], [0.5, 0.002], [1, 0], [200, 0]],
   [[0.2, 0.25], [0.203, 0.12], [0.206, 0.07], [0.21, 0.05], [0.215, 0.035], [0.225, 0.02], [0.245, 0.01], [0.3, 0.005], [0.5, 0.002], [1, 0], [200, 0]],
   Z],
  hiiDown, hiiDown, hiiDown];

var curveSets = [
  [xH2_T1, xHI_T1, xHII_T1],
  [xH2_T2, xHI_T2, xHII_T2],
  [xH2_T3, xHI_T3, xHII_T3],
  [xH2_T4, xHI_T4, xHII_T4],
  [xH2_T5, xHI_T5, xHII_T5]
];

(function () {
  var FONT = 'DejaVu Sans';
  var lineColors = ['#1fdcdc', '#1a6cff', '#5b1bff', '#ff1eff', '#ff1650'];
  var colLeft = 96, colWidth = 198.2;
  var rowTop = [40.7, 138.7, 237.5, 347, 435, 533.5, 643.3, 731, 830, 939.3, 1027.7, 1126, 1235, 1324, 1422.3];
  var groupBottom = [326, 622, 918.3, 1214.3, 1510];

  var supRich = {
    b: { fontSize: 25, fontFamily: FONT, color: '#000' },
    s: { fontSize: 17, fontFamily: FONT, color: '#000', verticalAlign: 'top', padding: [0, 0, 14, 0] }
  };

  function timeAxis(gi, pos, ticks, len, withLabels) {
    return {
      type: 'log', gridIndex: gi, position: pos, min: 0.14, max: 300,
      axisLine: { show: false, onZero: false },
      splitLine: { show: false },
      axisTick: { show: true, inside: true, length: len, customValues: ticks, lineStyle: { color: '#000', width: 1.2 } },
      axisLabel: withLabels ? {
        show: true, customValues: timeTicks, margin: 15,
        formatter: function (v) { return '{b|10}{s|' + Math.round(Math.log10(v)) + '}'; },
        rich: supRich
      } : { show: false }
    };
  }

  function fracAxis(gi, pos, ticks, len, withLabels) {
    return {
      type: 'value', gridIndex: gi, position: pos, min: -0.15, max: 1.15,
      axisLine: { show: false, onZero: false },
      splitLine: { show: false },
      axisTick: { show: true, inside: true, length: len, customValues: ticks, lineStyle: { color: '#000', width: 1.2 } },
      axisLabel: withLabels ? {
        show: true, customValues: fracTicks, margin: 10,
        fontSize: 25, fontFamily: FONT, color: '#000',
        formatter: function (v) { return v.toFixed(1); }
      } : { show: false }
    };
  }

  var grids = [], xAxes = [], yAxes = [], seriesList = [], texts = [];

  for (var g = 0; g < 5; g++) {
    for (var s = 0; s < 3; s++) {
      var r = g * 3 + s;
      var panelTop = rowTop[r];
      var panelBottom = s < 2 ? rowTop[r + 1] : groupBottom[g];
      for (var c = 0; c < 6; c++) {
        var gi = grids.length;
        grids.push({
          left: colLeft + c * colWidth, top: panelTop, width: colWidth, height: panelBottom - panelTop,
          show: true, borderColor: '#111', borderWidth: 1.6
        });
        var xi = xAxes.length;
        xAxes.push(timeAxis(gi, 'bottom', timeTicks, 3, g === 4 && s === 2));
        xAxes.push(timeAxis(gi, 'bottom', timeMinorTicks, 1.5, false));
        xAxes.push(timeAxis(gi, 'top', timeTicks, 3, false));
        xAxes.push(timeAxis(gi, 'top', timeMinorTicks, 1.5, false));
        var yi = yAxes.length;
        yAxes.push(fracAxis(gi, 'left', fracTicks, 4.5, c === 0));
        yAxes.push(fracAxis(gi, 'left', fracMinorTicks, 2.3, false));
        yAxes.push(fracAxis(gi, 'right', fracTicks, 4.5, false));
        yAxes.push(fracAxis(gi, 'right', fracMinorTicks, 2.3, false));

        var curves = curveSets[g][s][c];
        for (var k = 0; k < 5; k++) {
          seriesList.push({
            type: 'line', xAxisIndex: xi, yAxisIndex: yi, data: curves[k],
            symbol: 'none', showSymbol: false, smooth: 0.35, silent: true,
            lineStyle: { color: lineColors[k], width: 2 }, z: 2
          });
        }
        var eqv = equilibrium[g][s];
        seriesList.push({
          type: 'line', xAxisIndex: xi, yAxisIndex: yi,
          data: [[eqTimes[0], eqv], [eqTimes[1], eqv]],
          symbol: 'none', showSymbol: false, silent: true,
          lineStyle: { color: '#bdbdbd', width: 2, type: [21, 23] }, z: 3
        });
      }
      texts.push({
        type: 'text', x: 22, y: (panelTop + panelBottom) / 2, rotation: Math.PI / 2,
        style: {
          text: '{a|x}{b|' + speciesNames[s] + '}', align: 'center', verticalAlign: 'middle',
          rich: {
            a: { fontSize: 25, fontFamily: FONT, fill: '#000' },
            b: { fontSize: 17, fontFamily: FONT, fill: '#000', verticalAlign: 'bottom', padding: [16, 0, 0, 0] }
          }
        }
      });
    }
    texts.push({
      type: 'text', x: 1308, y: groupBottom[g] - 122, rotation: Math.PI / 2,
      style: { text: temperatureLabels[g] + ' K', fontSize: 25, fontFamily: FONT, fill: '#000', align: 'center', verticalAlign: 'middle' }
    });
  }

  for (var c2 = 0; c2 < 6; c2++) {
    texts.push({
      type: 'text', x: colLeft + (c2 + 0.5) * colWidth - 1, y: 20,
      style: {
        text: '{a|' + densityLabels[c2] + '  cm}{s|\u22123}', align: 'center', verticalAlign: 'middle',
        rich: {
          a: { fontSize: 25, fontFamily: FONT, fill: '#000' },
          s: { fontSize: 17, fontFamily: FONT, fill: '#000', verticalAlign: 'top', padding: [0, 0, 14, 0] }
        }
      }
    });
  }

  texts.push({
    type: 'text', x: 704, y: 1597,
    style: { text: 'Time (Myr)', fontSize: 25, fontFamily: FONT, fill: '#000', align: 'center', verticalAlign: 'middle' }
  });

  var legendX = [813, 924.5, 1034.6, 1144.7, 1255.7];
  for (var k2 = 0; k2 < 5; k2++) {
    var lc = lineColors[k2];
    texts.push({
      type: 'text', x: legendX[k2], y: 1603,
      style: {
        text: '{a|x}{b|HI}{a|=' + initialHILabels[k2] + '}', align: 'left', verticalAlign: 'middle',
        rich: {
          a: { fontSize: 25, fontFamily: FONT, fill: lc },
          b: { fontSize: 17, fontFamily: FONT, fill: lc, verticalAlign: 'bottom', padding: [16, 0, 0, 0] }
        }
      }
    });
  }

  var chart = echarts.init(document.getElementById('main'));
  chart.setOption({
    backgroundColor: '#fff',
    animation: false,
    grid: grids,
    xAxis: xAxes,
    yAxis: yAxes,
    series: seriesList,
    graphic: texts
  });
})();
</script>
</body>
</html>
